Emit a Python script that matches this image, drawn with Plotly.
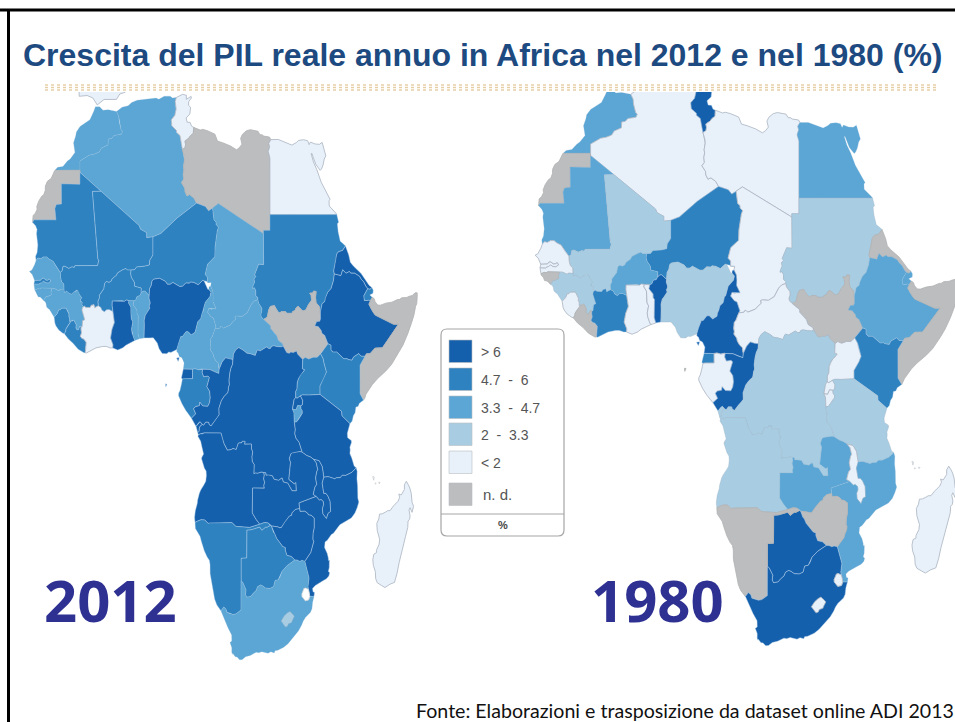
import plotly.graph_objects as go

W, H = 955, 722
TITLE = "Crescita del PIL reale annuo in Africa nel 2012 e nel 1980 (%)"
SOURCE = "Fonte: Elaborazioni e trasposizione da dataset online ADI 2013"
YEARS = ["2012", "1980"]
LEGEND_LABELS = ["> 6", "4.7  -  6", "3.3  -  4.7", "2  -  3.3", "< 2", "n. d."]
LEGEND_UNIT = "%"
COLORS = ["#1560ac", "#2f82c0", "#5ba6d4", "#a8cde2", "#e8f0fa", "#bcbdbf", "#ffffff"]
EDGES = ["rgba(190,215,240,0.55)", "rgba(190,215,240,0.45)", "rgba(150,190,220,0.3)",
         "rgba(150,175,195,0.45)", "#a9b4c0", "#b0b1b3", "#c9ced4"]

# growth class per country: 0 >6, 1 4.7-6, 2 3.3-4.7, 3 2-3.3, 4 <2, 5 n.d., 6 blank
CLASS_2012 = dict(Morocco=2, Algeria=2, Tunisia=4, Libya=5, Egypt=4, WSahara=5, Mauritania=1, Mali=1, Niger=1,
                  Chad=2, Sudan=1, SouthSudan=5, Eritrea=0, Ethiopia=0, Djibouti=1, Somalia=5, Senegal=2, Gambia=1,
                  GuineaBissau=2, Guinea=2, SierraLeone=1, Liberia=1, CoteIvoire=4, BurkinaFaso=1, Ghana=0, Togo=2,
                  Benin=2, Nigeria=0, Cameroon=2, CAR=2, EqGuinea=0, Gabon=1, Congo=0, DRC=0, Uganda=1, Kenya=1,
                  Rwanda=0, Burundi=2, Tanzania=0, Angola=0, Zambia=0, Malawi=0, Mozambique=0, Zimbabwe=0,
                  Botswana=1, Namibia=1, SouthAfrica=2, Swaziland=6, Lesotho=3, Madagascar=4, Iberia=4,
                  Bioko=0, SaoTome=0, Comoros=6)
CLASS_1980 = dict(Morocco=2, Algeria=4, Tunisia=0, Libya=4, Egypt=2, WSahara=5, Mauritania=2, Mali=3, Niger=1,
                  Chad=4, Sudan=3, SouthSudan=5, Eritrea=5, Ethiopia=2, Djibouti=2, Somalia=5, Senegal=4, Gambia=4,
                  GuineaBissau=5, Guinea=3, SierraLeone=4, Liberia=5, CoteIvoire=1, BurkinaFaso=2, Ghana=4, Togo=4,
                  Benin=0, Nigeria=3, Cameroon=0, CAR=4, EqGuinea=1, Gabon=4, Congo=0, DRC=3, Uganda=4, Kenya=1,
                  Rwanda=4, Burundi=4, Tanzania=3, Angola=3, Zambia=2, Malawi=4, Mozambique=2, Zimbabwe=5,
                  Botswana=0, Namibia=5, SouthAfrica=0, Swaziland=4, Lesotho=4, Madagascar=4, Iberia=6,
                  Bioko=0, SaoTome=5, Comoros=6)

# country outlines in longitude / latitude
Morocco = [[-5.19,35.76],[-4.59,35.33],[-3.64,35.4],[-2.6,35.18],[-2.17,35.17],[-1.79,34.53],[-1.73,33.92],[-1.39,32.86],[-1.12,32.65],[-1.31,32.26],[-2.62,32.09],[-3.07,31.72],[-3.65,31.64],[-3.69,30.9],[-4.86,30.5],[-5.24,30.0],[-6.06,29.73],[-7.06,29.58],[-8.67,28.84],[-8.67,27.66],[-13.12,27.65],[-12.62,28.04],[-11.69,28.15],[-10.9,28.83],[-10.4,29.1],[-9.56,29.93],[-9.81,31.18],[-9.43,32.04],[-9.3,32.56],[-8.66,33.24],[-7.65,33.7],[-6.91,34.11],[-6.24,35.15],[-5.93,35.76],[-5.19,35.76]]
Algeria = [[12.0,23.47],[8.57,21.57],[5.68,19.6],[4.27,19.16],[3.16,19.06],[3.15,19.69],[2.68,19.86],[2.06,20.14],[1.82,20.61],[-1.55,22.79],[-4.92,24.97],[-8.68,27.4],[-8.67,27.66],[-8.67,28.84],[-7.06,29.58],[-6.06,29.73],[-5.24,30.0],[-4.86,30.5],[-3.69,30.9],[-3.65,31.64],[-3.07,31.72],[-2.62,32.09],[-1.31,32.26],[-1.12,32.65],[-1.39,32.86],[-1.73,33.92],[-1.79,34.53],[-2.17,35.17],[-1.21,35.71],[-0.13,35.89],[0.5,36.3],[1.47,36.61],[3.16,36.78],[4.82,36.87],[5.32,36.72],[6.26,37.11],[7.33,37.12],[7.74,36.89],[8.42,36.95],[8.22,36.43],[8.38,35.48],[8.14,34.66],[7.52,34.1],[7.61,33.34],[8.43,32.75],[8.44,32.51],[9.06,32.1],[9.48,30.31],[9.81,29.42],[9.86,28.96],[9.68,28.14],[9.76,27.69],[9.63,27.14],[9.72,26.51],[9.32,26.09],[9.91,25.37],[9.95,24.94],[10.3,24.38],[10.77,24.56],[11.56,24.1],[12.0,23.47]]
Tunisia = [[9.48,30.31],[9.06,32.1],[8.44,32.51],[8.43,32.75],[7.61,33.34],[7.52,34.1],[8.14,34.66],[8.38,35.48],[8.22,36.43],[8.42,36.95],[9.51,37.35],[10.21,37.23],[10.18,36.72],[11.03,37.09],[11.1,36.9],[10.6,36.41],[10.59,35.95],[10.94,35.7],[10.81,34.83],[10.15,34.33],[10.34,33.79],[10.86,33.77],[11.11,33.29],[11.49,33.14],[11.43,32.37],[10.94,32.08],[10.64,31.76],[9.95,31.38],[10.06,30.96],[9.97,30.54],[9.48,30.31]]
Libya = [[14.85,22.86],[14.14,22.49],[13.58,23.04],[12.0,23.47],[11.56,24.1],[10.77,24.56],[10.3,24.38],[9.95,24.94],[9.91,25.37],[9.32,26.09],[9.72,26.51],[9.63,27.14],[9.76,27.69],[9.68,28.14],[9.86,28.96],[9.81,29.42],[9.48,30.31],[9.97,30.54],[10.06,30.96],[9.95,31.38],[10.64,31.76],[10.94,32.08],[11.43,32.37],[11.49,33.14],[12.66,32.79],[13.08,32.88],[13.92,32.71],[15.25,32.27],[15.71,31.38],[16.61,31.18],[18.02,30.76],[19.09,30.27],[19.57,30.53],[20.05,30.99],[19.82,31.75],[20.13,32.24],[20.85,32.71],[21.54,32.84],[22.9,32.64],[23.24,32.19],[23.61,32.19],[23.93,32.02],[24.92,31.9],[25.16,31.57],[24.8,31.09],[24.96,30.66],[24.7,30.04],[25.0,29.24],[25.0,25.68],[25.0,22.0],[25.0,20.0],[23.85,20.0],[23.84,19.58],[19.85,21.5],[15.86,23.41],[14.85,22.86]]
Egypt = [[25.0,22.0],[25.0,29.24],[24.7,30.04],[24.96,30.66],[24.8,31.09],[25.16,31.57],[26.5,31.59],[27.46,31.32],[28.45,31.03],[28.91,30.87],[29.68,31.19],[30.1,31.47],[30.98,31.56],[31.69,31.43],[31.96,30.93],[32.19,31.26],[32.99,31.02],[33.77,30.97],[34.27,31.22],[34.92,29.5],[34.64,29.1],[34.43,28.34],[34.15,27.82],[33.92,27.65],[33.59,27.97],[33.14,28.42],[32.42,29.85],[32.32,29.76],[32.73,28.71],[33.35,27.7],[34.1,26.14],[34.47,25.6],[34.8,25.03],[35.69,23.93],[35.49,23.81],[35.53,23.1],[36.69,22.2],[36.87,22.0],[32.9,22.0],[29.02,22.0],[25.0,22.0]]
WSahara = [[-8.67,27.66],[-8.68,27.4],[-8.69,25.88],[-11.97,25.93],[-11.94,23.37],[-12.87,23.28],[-13.12,22.77],[-12.93,21.33],[-16.85,21.33],[-17.06,21.0],[-17.0,21.42],[-16.97,21.89],[-16.59,22.16],[-16.26,22.68],[-16.33,23.02],[-15.98,23.72],[-15.43,24.36],[-15.09,24.52],[-14.82,25.1],[-14.8,25.64],[-14.44,26.25],[-13.77,26.62],[-13.14,27.64],[-13.12,27.65],[-8.67,27.66]]
Mauritania = [[-12.17,14.62],[-12.83,15.3],[-13.44,16.04],[-14.1,16.3],[-14.58,16.6],[-15.14,16.59],[-15.62,16.37],[-16.12,16.46],[-16.46,16.14],[-16.55,16.67],[-16.27,17.17],[-16.15,18.11],[-16.26,19.1],[-16.38,19.59],[-16.28,20.09],[-16.54,20.57],[-17.06,21.0],[-16.85,21.33],[-12.93,21.33],[-13.12,22.77],[-12.87,23.28],[-11.94,23.37],[-11.97,25.93],[-8.69,25.88],[-8.68,27.4],[-4.92,24.97],[-6.45,24.96],[-5.97,20.64],[-5.49,16.33],[-5.32,16.2],[-5.54,15.5],[-9.55,15.49],[-9.7,15.26],[-10.09,15.33],[-10.65,15.13],[-11.35,15.41],[-11.67,15.39],[-11.83,14.8],[-12.17,14.62]]
Mali = [[-12.17,14.62],[-11.83,14.8],[-11.67,15.39],[-11.35,15.41],[-10.65,15.13],[-10.09,15.33],[-9.7,15.26],[-9.55,15.49],[-5.54,15.5],[-5.32,16.2],[-5.49,16.33],[-5.97,20.64],[-6.45,24.96],[-4.92,24.97],[-1.55,22.79],[1.82,20.61],[2.06,20.14],[2.68,19.86],[3.15,19.69],[3.16,19.06],[4.27,19.16],[4.27,16.85],[3.72,16.18],[3.64,15.57],[2.75,15.41],[1.39,15.32],[1.02,14.97],[0.37,14.93],[-0.27,14.92],[-0.52,15.12],[-1.07,14.97],[-2.0,14.56],[-2.19,14.25],[-2.97,13.8],[-3.1,13.54],[-3.52,13.34],[-4.01,13.47],[-4.28,13.23],[-4.43,12.54],[-5.22,11.71],[-5.2,11.38],[-5.47,10.95],[-5.4,10.37],[-5.82,10.22],[-6.05,10.1],[-6.21,10.52],[-6.49,10.41],[-6.67,10.43],[-6.85,10.14],[-7.62,10.15],[-7.9,10.3],[-8.03,10.21],[-8.34,10.49],[-8.28,10.79],[-8.41,10.91],[-8.62,10.81],[-8.58,11.14],[-8.38,11.39],[-8.79,11.81],[-8.91,12.09],[-9.13,12.31],[-9.33,12.33],[-9.57,12.19],[-9.89,12.06],[-10.17,11.84],[-10.59,11.92],[-10.87,12.18],[-11.04,12.21],[-11.3,12.08],[-11.46,12.08],[-11.51,12.44],[-11.47,12.75],[-11.55,13.14],[-11.93,13.42],[-12.12,13.99],[-12.17,14.62]]
Niger = [[2.15,11.94],[2.18,12.63],[1.02,12.85],[0.99,13.34],[0.43,13.99],[0.3,14.44],[0.37,14.93],[1.02,14.97],[1.39,15.32],[2.75,15.41],[3.64,15.57],[3.72,16.18],[4.27,16.85],[4.27,19.16],[5.68,19.6],[8.57,21.57],[12.0,23.47],[13.58,23.04],[14.14,22.49],[14.85,22.86],[15.1,21.31],[15.47,21.05],[15.49,20.73],[15.9,20.39],[15.69,19.96],[15.3,17.93],[15.25,16.63],[13.97,15.68],[13.54,14.37],[13.96,14.0],[13.95,13.35],[14.6,13.33],[13.08,13.6],[12.3,13.04],[11.53,13.33],[10.99,13.39],[10.7,13.25],[10.11,13.28],[9.52,12.85],[9.01,12.83],[7.8,13.34],[7.33,13.1],[6.82,13.12],[6.45,13.49],[5.44,13.87],[4.37,13.75],[4.11,13.53],[3.97,12.96],[3.68,12.55],[3.61,11.66],[2.85,12.24],[2.49,12.23],[2.15,11.94]]
Chad = [[23.84,19.58],[23.89,15.61],[23.02,15.68],[22.57,14.94],[22.3,14.33],[22.51,14.09],[22.18,13.79],[22.3,13.37],[22.04,12.96],[21.94,12.59],[22.29,12.65],[22.5,12.26],[22.51,11.68],[22.88,11.38],[22.86,11.14],[22.23,10.97],[21.72,10.57],[21.0,9.48],[20.06,9.01],[19.09,9.07],[18.81,8.98],[18.91,8.63],[18.39,8.28],[17.96,7.89],[16.71,7.51],[16.46,7.73],[16.29,7.75],[16.11,7.5],[15.28,7.42],[15.44,7.69],[15.12,8.38],[14.98,8.8],[14.54,8.97],[13.95,9.55],[14.17,10.02],[14.63,9.92],[14.91,9.99],[15.47,9.98],[14.92,10.89],[14.96,11.56],[14.89,12.22],[14.5,12.86],[14.6,13.33],[13.95,13.35],[13.96,14.0],[13.54,14.37],[13.97,15.68],[15.25,16.63],[15.3,17.93],[15.69,19.96],[15.9,20.39],[15.49,20.73],[15.47,21.05],[15.1,21.31],[14.85,22.86],[15.86,23.41],[19.85,21.5],[23.84,19.58]]
Sudan = [[33.96,9.46],[33.82,9.48],[33.84,9.98],[33.72,10.33],[33.21,10.72],[33.09,11.44],[33.21,12.18],[32.74,12.25],[32.67,12.02],[32.07,11.97],[32.31,11.68],[32.4,11.08],[31.85,10.53],[31.35,9.81],[30.84,9.71],[30.0,10.29],[29.62,10.08],[29.52,9.79],[29.0,9.6],[28.97,9.4],[27.97,9.4],[27.83,9.6],[27.11,9.64],[26.75,9.47],[26.48,9.55],[25.96,10.14],[25.79,10.41],[25.07,10.27],[24.79,9.81],[24.54,8.92],[24.19,8.73],[23.89,8.62],[23.81,8.67],[23.46,8.95],[23.39,9.27],[23.56,9.68],[23.55,10.09],[22.98,10.71],[22.86,11.14],[22.88,11.38],[22.51,11.68],[22.5,12.26],[22.29,12.65],[21.94,12.59],[22.04,12.96],[22.3,13.37],[22.18,13.79],[22.51,14.09],[22.3,14.33],[22.57,14.94],[23.02,15.68],[23.89,15.61],[23.84,19.58],[23.85,20.0],[25.0,20.0],[25.0,22.0],[29.02,22.0],[32.9,22.0],[36.87,22.0],[37.19,21.02],[36.97,20.84],[37.11,19.81],[37.48,18.61],[37.86,18.37],[38.41,18.0],[37.9,17.43],[37.17,17.26],[36.85,16.96],[36.75,16.29],[36.32,14.82],[36.43,14.42],[36.27,13.56],[35.86,12.58],[35.26,12.08],[34.83,11.32],[34.73,10.91],[34.26,10.63],[33.96,9.58],[33.96,9.46]]
SouthSudan = [[33.96,9.46],[33.97,8.68],[33.83,8.38],[33.29,8.35],[32.95,7.78],[33.57,7.71],[34.08,7.23],[34.25,6.83],[34.71,6.59],[35.3,5.51],[34.62,4.85],[34.01,4.25],[33.39,3.79],[32.69,3.79],[31.88,3.56],[31.25,3.78],[30.83,3.51],[29.95,4.17],[29.72,4.6],[29.16,4.39],[28.7,4.46],[28.43,4.29],[27.98,4.41],[27.37,5.23],[27.21,5.55],[26.47,5.95],[26.21,6.55],[25.8,6.98],[25.12,7.5],[25.11,7.83],[24.57,8.23],[23.89,8.62],[24.19,8.73],[24.54,8.92],[24.79,9.81],[25.07,10.27],[25.79,10.41],[25.96,10.14],[26.48,9.55],[26.75,9.47],[27.11,9.64],[27.83,9.6],[27.97,9.4],[28.97,9.4],[29.0,9.6],[29.52,9.79],[29.62,10.08],[30.0,10.29],[30.84,9.71],[31.35,9.81],[31.85,10.53],[32.4,11.08],[32.31,11.68],[32.07,11.97],[32.67,12.02],[32.74,12.25],[33.21,12.18],[33.09,11.44],[33.21,10.72],[33.72,10.33],[33.84,9.98],[33.82,9.48],[33.96,9.46]]
Eritrea = [[42.35,12.54],[42.01,12.87],[41.6,13.45],[41.16,13.77],[40.9,14.12],[40.03,14.52],[39.34,14.53],[39.1,14.74],[38.51,14.51],[37.91,14.96],[37.59,14.21],[36.43,14.42],[36.32,14.82],[36.75,16.29],[36.85,16.96],[37.17,17.26],[37.9,17.43],[38.41,18.0],[38.99,16.84],[39.27,15.92],[39.81,15.44],[41.18,14.49],[41.73,13.92],[42.28,13.34],[42.59,13.0],[43.08,12.7],[42.78,12.46],[42.35,12.54]]
Ethiopia = [[47.79,8.0],[44.96,5.0],[43.66,4.96],[42.77,4.25],[42.13,4.23],[41.86,3.92],[41.17,3.92],[40.77,4.26],[39.85,3.84],[39.56,3.42],[38.89,3.5],[38.67,3.62],[38.44,3.59],[38.12,3.6],[36.86,4.45],[36.16,4.45],[35.82,4.78],[35.82,5.34],[35.3,5.51],[34.71,6.59],[34.25,6.83],[34.08,7.23],[33.57,7.71],[32.95,7.78],[33.29,8.35],[33.83,8.38],[33.97,8.68],[33.96,9.58],[34.26,10.63],[34.73,10.91],[34.83,11.32],[35.26,12.08],[35.86,12.58],[36.27,13.56],[36.43,14.42],[37.59,14.21],[37.91,14.96],[38.51,14.51],[39.1,14.74],[39.34,14.53],[40.03,14.52],[40.9,14.12],[41.16,13.77],[41.6,13.45],[42.01,12.87],[42.35,12.54],[42.0,12.1],[41.66,11.63],[41.74,11.36],[41.76,11.05],[42.31,11.03],[42.55,11.11],[42.78,10.93],[42.56,10.57],[42.93,10.02],[43.3,9.54],[43.68,9.18],[46.95,8.0],[47.79,8.0]]
Djibouti = [[43.08,12.7],[43.32,12.39],[43.29,11.97],[42.72,11.74],[43.15,11.46],[42.78,10.93],[42.55,11.11],[42.31,11.03],[41.76,11.05],[41.74,11.36],[41.66,11.63],[42.0,12.1],[42.35,12.54],[42.78,12.46],[43.08,12.7]]
Somalia = [[41.59,-1.68],[40.99,-0.86],[40.98,2.78],[41.86,3.92],[42.13,4.23],[42.77,4.25],[43.66,4.96],[44.96,5.0],[47.79,8.0],[46.95,8.0],[43.68,9.18],[43.3,9.54],[42.93,10.02],[42.56,10.57],[42.78,10.93],[43.15,11.46],[43.47,11.28],[43.67,10.86],[44.12,10.45],[44.61,10.44],[45.56,10.7],[46.65,10.82],[47.53,11.13],[48.02,11.19],[48.38,11.38],[48.95,11.41],[49.27,11.43],[49.73,11.58],[50.26,11.68],[50.73,12.02],[51.11,12.02],[51.13,11.75],[51.04,11.17],[51.05,10.64],[50.83,10.28],[50.55,9.2],[50.07,8.08],[49.45,6.8],[48.59,5.34],[47.74,4.22],[46.56,2.86],[45.56,2.05],[44.07,1.05],[43.14,0.29],[42.04,-0.92],[41.81,-1.45],[41.59,-1.68]]
Senegal = [[-16.71,13.59],[-17.13,14.37],[-17.63,14.73],[-17.19,14.92],[-16.7,15.62],[-16.46,16.14],[-16.12,16.46],[-15.62,16.37],[-15.14,16.59],[-14.58,16.6],[-14.1,16.3],[-13.44,16.04],[-12.83,15.3],[-12.17,14.62],[-12.12,13.99],[-11.93,13.42],[-11.55,13.14],[-11.47,12.75],[-11.51,12.44],[-11.66,12.39],[-12.2,12.47],[-12.28,12.35],[-12.5,12.33],[-13.22,12.58],[-13.7,12.59],[-15.55,12.63],[-15.82,12.52],[-16.15,12.55],[-16.68,12.38],[-16.84,13.15],[-15.93,13.13],[-15.69,13.27],[-15.51,13.28],[-15.14,13.51],[-14.71,13.3],[-14.28,13.28],[-13.84,13.51],[-14.05,13.79],[-14.38,13.63],[-14.69,13.63],[-15.08,13.88],[-15.4,13.86],[-15.62,13.62],[-16.71,13.59]]
Gambia = [[-16.84,13.15],[-16.71,13.59],[-15.62,13.62],[-15.4,13.86],[-15.08,13.88],[-14.69,13.63],[-14.38,13.63],[-14.05,13.79],[-13.84,13.51],[-14.28,13.28],[-14.71,13.3],[-15.14,13.51],[-15.51,13.28],[-15.69,13.27],[-15.93,13.13],[-16.84,13.15]]
GuineaBissau = [[-15.13,11.04],[-15.66,11.46],[-16.09,11.52],[-16.31,11.81],[-16.31,11.96],[-16.61,12.17],[-16.68,12.38],[-16.15,12.55],[-15.82,12.52],[-15.55,12.63],[-13.7,12.59],[-13.72,12.25],[-13.83,12.14],[-13.74,11.81],[-13.9,11.68],[-14.12,11.68],[-14.38,11.51],[-14.69,11.53],[-15.13,11.04]]
Guinea = [[-8.44,7.69],[-8.72,7.71],[-8.93,7.31],[-9.21,7.31],[-9.4,7.53],[-9.34,7.93],[-9.76,8.54],[-10.02,8.43],[-10.23,8.41],[-10.51,8.35],[-10.49,8.72],[-10.65,8.98],[-10.62,9.27],[-10.84,9.69],[-11.12,10.05],[-11.92,10.05],[-12.15,9.86],[-12.43,9.84],[-12.6,9.62],[-12.71,9.34],[-13.25,8.9],[-13.69,9.49],[-14.07,9.89],[-14.33,10.02],[-14.58,10.21],[-14.69,10.66],[-14.84,10.88],[-15.13,11.04],[-14.69,11.53],[-14.38,11.51],[-14.12,11.68],[-13.9,11.68],[-13.74,11.81],[-13.83,12.14],[-13.72,12.25],[-13.7,12.59],[-13.22,12.58],[-12.5,12.33],[-12.28,12.35],[-12.2,12.47],[-11.66,12.39],[-11.51,12.44],[-11.46,12.08],[-11.3,12.08],[-11.04,12.21],[-10.87,12.18],[-10.59,11.92],[-10.17,11.84],[-9.89,12.06],[-9.57,12.19],[-9.33,12.33],[-9.13,12.31],[-8.91,12.09],[-8.79,11.81],[-8.38,11.39],[-8.58,11.14],[-8.62,10.81],[-8.41,10.91],[-8.28,10.79],[-8.34,10.49],[-8.03,10.21],[-8.23,10.13],[-8.31,9.79],[-8.08,9.38],[-7.83,8.58],[-8.2,8.46],[-8.3,8.32],[-8.22,8.12],[-8.28,7.69],[-8.44,7.69]]
SierraLeone = [[-11.44,6.79],[-11.71,6.86],[-12.43,7.26],[-12.95,7.8],[-13.12,8.16],[-13.25,8.9],[-12.71,9.34],[-12.6,9.62],[-12.43,9.84],[-12.15,9.86],[-11.92,10.05],[-11.12,10.05],[-10.84,9.69],[-10.62,9.27],[-10.65,8.98],[-10.49,8.72],[-10.51,8.35],[-10.23,8.41],[-10.7,7.94],[-11.15,7.4],[-11.2,7.11],[-11.44,6.79]]
Liberia = [[-11.44,6.79],[-11.2,7.11],[-11.15,7.4],[-10.7,7.94],[-10.23,8.41],[-10.02,8.43],[-9.76,8.54],[-9.34,7.93],[-9.4,7.53],[-9.21,7.31],[-8.93,7.31],[-8.72,7.71],[-8.44,7.69],[-8.49,7.4],[-8.39,6.91],[-8.6,6.47],[-8.31,6.19],[-7.99,6.13],[-7.57,5.71],[-7.54,5.31],[-7.64,5.19],[-7.71,4.36],[-7.97,4.36],[-9.0,4.83],[-9.91,5.59],[-10.77,6.14],[-11.44,6.79]]
CoteIvoire = [[-2.86,4.99],[-3.31,4.98],[-4.01,5.18],[-4.65,5.17],[-5.83,4.99],[-6.53,4.71],[-7.52,4.34],[-7.71,4.36],[-7.64,5.19],[-7.54,5.31],[-7.57,5.71],[-7.99,6.13],[-8.31,6.19],[-8.6,6.47],[-8.39,6.91],[-8.49,7.4],[-8.44,7.69],[-8.28,7.69],[-8.22,8.12],[-8.3,8.32],[-8.2,8.46],[-7.83,8.58],[-8.08,9.38],[-8.31,9.79],[-8.23,10.13],[-8.03,10.21],[-7.9,10.3],[-7.62,10.15],[-6.85,10.14],[-6.67,10.43],[-6.49,10.41],[-6.21,10.52],[-6.05,10.1],[-5.82,10.22],[-5.4,10.37],[-4.95,10.15],[-4.78,9.82],[-4.33,9.61],[-3.98,9.86],[-3.51,9.9],[-2.83,9.64],[-2.56,8.22],[-2.98,7.38],[-3.24,6.25],[-2.81,5.39],[-2.86,4.99]]
BurkinaFaso = [[-2.83,9.64],[-3.51,9.9],[-3.98,9.86],[-4.33,9.61],[-4.78,9.82],[-4.95,10.15],[-5.4,10.37],[-5.47,10.95],[-5.2,11.38],[-5.22,11.71],[-4.43,12.54],[-4.28,13.23],[-4.01,13.47],[-3.52,13.34],[-3.1,13.54],[-2.97,13.8],[-2.19,14.25],[-2.0,14.56],[-1.07,14.97],[-0.52,15.12],[-0.27,14.92],[0.37,14.93],[0.3,14.44],[0.43,13.99],[0.99,13.34],[1.02,12.85],[2.18,12.63],[2.15,11.94],[1.94,11.64],[1.45,11.55],[1.24,11.11],[0.9,11.0],[0.02,11.02],[-0.44,11.1],[-0.76,10.94],[-1.2,11.01],[-2.94,10.96],[-2.96,10.4],[-2.83,9.64]]
Ghana = [[1.06,5.93],[-0.51,5.34],[-1.06,5.0],[-1.96,4.71],[-2.86,4.99],[-2.81,5.39],[-3.24,6.25],[-2.98,7.38],[-2.56,8.22],[-2.83,9.64],[-2.96,10.4],[-2.94,10.96],[-1.2,11.01],[-0.76,10.94],[-0.44,11.1],[0.02,11.02],[-0.05,10.71],[0.37,10.19],[0.37,9.47],[0.46,8.68],[0.71,8.31],[0.49,7.41],[0.57,6.91],[0.84,6.28],[1.06,5.93]]
Togo = [[1.87,6.14],[1.06,5.93],[0.84,6.28],[0.57,6.91],[0.49,7.41],[0.71,8.31],[0.46,8.68],[0.37,9.47],[0.37,10.19],[-0.05,10.71],[0.02,11.02],[0.9,11.0],[0.77,10.47],[1.08,10.18],[1.43,9.83],[1.46,9.33],[1.66,9.13],[1.62,6.83],[1.87,6.14]]
Benin = [[2.69,6.26],[1.87,6.14],[1.62,6.83],[1.66,9.13],[1.46,9.33],[1.43,9.83],[1.08,10.18],[0.77,10.47],[0.9,11.0],[1.24,11.11],[1.45,11.55],[1.94,11.64],[2.15,11.94],[2.49,12.23],[2.85,12.24],[3.61,11.66],[3.57,11.33],[3.8,10.73],[3.6,10.33],[3.71,10.06],[3.22,9.44],[2.91,9.14],[2.72,8.51],[2.75,7.87],[2.69,6.26]]
Nigeria = [[8.5,4.77],[7.46,4.41],[7.08,4.46],[6.7,4.24],[5.9,4.26],[5.36,4.89],[5.03,5.61],[4.33,6.27],[3.57,6.26],[2.69,6.26],[2.75,7.87],[2.72,8.51],[2.91,9.14],[3.22,9.44],[3.71,10.06],[3.6,10.33],[3.8,10.73],[3.57,11.33],[3.61,11.66],[3.68,12.55],[3.97,12.96],[4.11,13.53],[4.37,13.75],[5.44,13.87],[6.45,13.49],[6.82,13.12],[7.33,13.1],[7.8,13.34],[9.01,12.83],[9.52,12.85],[10.11,13.28],[10.7,13.25],[10.99,13.39],[11.53,13.33],[12.3,13.04],[13.08,13.6],[13.32,13.56],[14.0,12.46],[14.18,12.48],[14.58,12.09],[14.47,11.9],[14.42,11.57],[13.57,10.8],[13.31,10.16],[13.17,9.64],[12.96,9.42],[12.75,8.72],[12.22,8.31],[12.06,7.8],[11.84,7.4],[11.75,6.98],[11.06,6.64],[10.5,7.06],[10.12,7.04],[9.52,6.45],[9.23,6.44],[8.76,5.48],[8.5,4.77]]
Cameroon = [[14.5,12.86],[14.89,12.22],[14.96,11.56],[14.92,10.89],[15.47,9.98],[14.91,9.99],[14.63,9.92],[14.17,10.02],[13.95,9.55],[14.54,8.97],[14.98,8.8],[15.12,8.38],[15.44,7.69],[15.28,7.42],[14.78,6.41],[14.54,6.23],[14.46,5.45],[14.56,5.03],[14.48,4.73],[14.95,4.21],[15.04,3.85],[15.41,3.34],[15.86,3.01],[15.91,2.56],[16.01,2.27],[15.94,1.73],[15.15,1.96],[14.34,2.23],[13.08,2.27],[12.95,2.32],[12.36,2.19],[11.75,2.33],[11.28,2.26],[9.65,2.28],[9.8,3.07],[9.4,3.73],[8.95,3.9],[8.74,4.35],[8.49,4.5],[8.5,4.77],[8.76,5.48],[9.23,6.44],[9.52,6.45],[10.12,7.04],[10.5,7.06],[11.06,6.64],[11.75,6.98],[11.84,7.4],[12.06,7.8],[12.22,8.31],[12.75,8.72],[12.96,9.42],[13.17,9.64],[13.31,10.16],[13.57,10.8],[14.42,11.57],[14.47,11.9],[14.58,12.09],[14.18,12.48],[14.21,12.8],[14.5,12.86]]
CAR = [[27.37,5.23],[27.04,5.13],[26.4,5.15],[25.65,5.26],[25.28,5.17],[25.13,4.93],[24.81,4.9],[24.41,5.11],[23.3,4.61],[22.84,4.71],[22.7,4.63],[22.41,4.03],[21.66,4.22],[20.93,4.32],[20.29,4.69],[19.47,5.03],[18.93,4.71],[18.54,4.2],[18.45,3.5],[17.81,3.56],[17.13,3.73],[16.54,3.2],[16.01,2.27],[15.91,2.56],[15.86,3.01],[15.41,3.34],[15.04,3.85],[14.95,4.21],[14.48,4.73],[14.56,5.03],[14.46,5.45],[14.54,6.23],[14.78,6.41],[15.28,7.42],[16.11,7.5],[16.29,7.75],[16.46,7.73],[16.71,7.51],[17.96,7.89],[18.39,8.28],[18.91,8.63],[18.81,8.98],[19.09,9.07],[20.06,9.01],[21.0,9.48],[21.72,10.57],[22.23,10.97],[22.86,11.14],[22.98,10.71],[23.55,10.09],[23.56,9.68],[23.39,9.27],[23.46,8.95],[23.81,8.67],[24.57,8.23],[25.11,7.83],[25.12,7.5],[25.8,6.98],[26.21,6.55],[26.47,5.95],[27.21,5.55],[27.37,5.23]]
EqGuinea = [[9.65,2.28],[11.28,2.26],[11.29,1.06],[9.83,1.07],[9.49,1.01],[9.31,1.16],[9.65,2.28]]
Gabon = [[11.09,-3.98],[10.07,-2.97],[9.41,-2.14],[8.8,-1.11],[8.83,-0.78],[9.05,-0.46],[9.29,0.27],[9.49,1.01],[9.83,1.07],[11.29,1.06],[11.28,2.26],[11.75,2.33],[12.36,2.19],[12.95,2.32],[13.08,2.27],[13.0,1.83],[13.28,1.31],[14.03,1.4],[14.28,1.2],[13.84,0.04],[14.32,-0.55],[14.43,-1.33],[14.3,-2.0],[13.99,-2.47],[13.11,-2.43],[12.58,-1.95],[12.5,-2.39],[11.82,-2.51],[11.48,-2.77],[11.86,-3.43],[11.09,-3.98]]
Congo = [[13.0,-4.78],[12.62,-4.44],[12.32,-4.61],[11.91,-5.04],[11.09,-3.98],[11.86,-3.43],[11.48,-2.77],[11.82,-2.51],[12.5,-2.39],[12.58,-1.95],[13.11,-2.43],[13.99,-2.47],[14.3,-2.0],[14.43,-1.33],[14.32,-0.55],[13.84,0.04],[14.28,1.2],[14.03,1.4],[13.28,1.31],[13.0,1.83],[13.08,2.27],[14.34,2.23],[15.15,1.96],[15.94,1.73],[16.01,2.27],[16.54,3.2],[17.13,3.73],[17.81,3.56],[18.45,3.5],[18.39,2.9],[18.09,2.37],[17.9,1.74],[17.77,0.86],[17.83,0.29],[17.66,-0.06],[17.64,-0.42],[17.52,-0.74],[16.87,-1.23],[16.41,-1.74],[15.97,-2.71],[16.01,-3.54],[15.75,-3.86],[15.17,-4.34],[14.58,-4.97],[14.21,-4.79],[14.14,-4.51],[13.6,-4.5],[13.26,-4.88],[13.0,-4.78]]
DRC = [[30.83,3.51],[30.77,2.34],[31.17,2.2],[30.85,1.85],[30.47,1.58],[30.09,1.06],[29.88,0.6],[29.82,-0.21],[29.59,-0.59],[29.58,-1.34],[29.29,-1.62],[29.25,-2.22],[29.12,-2.29],[29.02,-2.84],[29.28,-3.29],[29.34,-4.5],[29.52,-5.42],[29.42,-5.94],[29.62,-6.52],[30.2,-7.08],[30.74,-8.34],[30.35,-8.24],[29.0,-8.41],[28.73,-8.53],[28.45,-9.16],[28.67,-9.61],[28.5,-10.79],[28.37,-11.79],[28.64,-11.97],[29.34,-12.36],[29.62,-12.18],[29.7,-13.26],[28.93,-13.25],[28.52,-12.7],[28.16,-12.27],[27.39,-12.13],[27.16,-11.61],[26.55,-11.92],[25.75,-11.78],[25.42,-11.33],[24.78,-11.24],[24.31,-11.26],[24.26,-10.95],[23.91,-10.93],[23.46,-10.87],[22.84,-11.02],[22.4,-10.99],[22.16,-11.08],[22.21,-9.89],[21.88,-9.52],[21.8,-8.91],[21.95,-8.31],[21.75,-7.92],[21.73,-7.29],[20.51,-7.3],[20.6,-6.94],[20.09,-6.94],[20.04,-7.12],[19.42,-7.16],[19.17,-7.74],[19.02,-7.99],[18.46,-7.85],[18.13,-7.99],[17.47,-8.07],[17.09,-7.55],[16.86,-7.22],[16.57,-6.62],[16.33,-5.88],[13.38,-5.86],[13.02,-5.98],[12.74,-5.97],[12.32,-6.1],[12.18,-5.79],[12.44,-5.68],[12.47,-5.25],[12.63,-4.99],[13.0,-4.78],[13.26,-4.88],[13.6,-4.5],[14.14,-4.51],[14.21,-4.79],[14.58,-4.97],[15.17,-4.34],[15.75,-3.86],[16.01,-3.54],[15.97,-2.71],[16.41,-1.74],[16.87,-1.23],[17.52,-0.74],[17.64,-0.42],[17.66,-0.06],[17.83,0.29],[17.77,0.86],[17.9,1.74],[18.09,2.37],[18.39,2.9],[18.45,3.5],[18.54,4.2],[18.93,4.71],[19.47,5.03],[20.29,4.69],[20.93,4.32],[21.66,4.22],[22.41,4.03],[22.7,4.63],[22.84,4.71],[23.3,4.61],[24.41,5.11],[24.81,4.9],[25.13,4.93],[25.28,5.17],[25.65,5.26],[26.4,5.15],[27.04,5.13],[27.37,5.23],[27.98,4.41],[28.43,4.29],[28.7,4.46],[29.16,4.39],[29.72,4.6],[29.95,4.17],[30.83,3.51]]
Uganda = [[31.87,-1.03],[30.77,-1.01],[30.42,-1.13],[29.82,-1.44],[29.58,-1.34],[29.59,-0.59],[29.82,-0.21],[29.88,0.6],[30.09,1.06],[30.47,1.58],[30.85,1.85],[31.17,2.2],[30.77,2.34],[30.83,3.51],[31.25,3.78],[31.88,3.56],[32.69,3.79],[33.39,3.79],[34.01,4.25],[34.48,3.56],[34.6,3.05],[35.04,1.91],[34.67,1.18],[34.18,0.52],[33.89,0.11],[33.9,-0.95],[31.87,-1.03]]
Kenya = [[39.2,-4.68],[37.77,-3.68],[37.7,-3.1],[34.07,-1.06],[33.9,-0.95],[33.89,0.11],[34.18,0.52],[34.67,1.18],[35.04,1.91],[34.6,3.05],[34.48,3.56],[34.01,4.25],[34.62,4.85],[35.3,5.51],[35.82,5.34],[35.82,4.78],[36.16,4.45],[36.86,4.45],[38.12,3.6],[38.44,3.59],[38.67,3.62],[38.89,3.5],[39.56,3.42],[39.85,3.84],[40.77,4.26],[41.17,3.92],[41.86,3.92],[40.98,2.78],[40.99,-0.86],[41.59,-1.68],[40.88,-2.08],[40.64,-2.5],[40.26,-2.57],[40.12,-3.28],[39.8,-3.68],[39.6,-4.35],[39.2,-4.68]]
Rwanda = [[30.42,-1.13],[30.82,-1.7],[30.76,-2.29],[30.47,-2.41],[29.94,-2.35],[29.63,-2.92],[29.02,-2.84],[29.12,-2.29],[29.25,-2.22],[29.29,-1.62],[29.58,-1.34],[29.82,-1.44],[30.42,-1.13]]
Burundi = [[30.47,-2.41],[30.53,-2.81],[30.74,-3.03],[30.75,-3.36],[30.51,-3.57],[30.12,-4.09],[29.75,-4.45],[29.34,-4.5],[29.28,-3.29],[29.02,-2.84],[29.63,-2.92],[29.94,-2.35],[30.47,-2.41]]
Tanzania = [[33.9,-0.95],[34.07,-1.06],[37.7,-3.1],[37.77,-3.68],[39.2,-4.68],[38.74,-5.91],[38.8,-6.48],[39.44,-6.84],[39.47,-7.1],[39.19,-7.7],[39.25,-8.01],[39.19,-8.49],[39.54,-9.11],[39.95,-10.1],[40.32,-10.32],[39.52,-10.9],[38.43,-11.29],[37.83,-11.27],[37.47,-11.57],[36.78,-11.59],[36.51,-11.72],[35.31,-11.44],[34.56,-11.52],[34.28,-10.16],[33.94,-9.69],[33.74,-9.42],[32.76,-9.23],[32.19,-8.93],[31.56,-8.76],[31.16,-8.59],[30.74,-8.34],[30.2,-7.08],[29.62,-6.52],[29.42,-5.94],[29.52,-5.42],[29.34,-4.5],[29.75,-4.45],[30.12,-4.09],[30.51,-3.57],[30.75,-3.36],[30.74,-3.03],[30.53,-2.81],[30.47,-2.41],[30.76,-2.29],[30.82,-1.7],[30.42,-1.13],[30.77,-1.01],[31.87,-1.03],[33.9,-0.95]]
Angola = [[16.33,-5.88],[16.57,-6.62],[16.86,-7.22],[17.09,-7.55],[17.47,-8.07],[18.13,-7.99],[18.46,-7.85],[19.02,-7.99],[19.17,-7.74],[19.42,-7.16],[20.04,-7.12],[20.09,-6.94],[20.6,-6.94],[20.51,-7.3],[21.73,-7.29],[21.75,-7.92],[21.95,-8.31],[21.8,-8.91],[21.88,-9.52],[22.21,-9.89],[22.16,-11.08],[22.4,-10.99],[22.84,-11.02],[23.46,-10.87],[23.91,-10.93],[24.02,-11.24],[23.9,-11.72],[24.08,-12.19],[23.93,-12.57],[24.02,-12.91],[21.93,-12.9],[21.89,-16.08],[22.56,-16.9],[23.22,-17.52],[21.38,-17.93],[18.96,-17.79],[18.26,-17.31],[14.21,-17.35],[14.06,-17.42],[13.46,-16.97],[12.81,-16.94],[12.22,-17.11],[11.73,-17.3],[11.64,-16.67],[11.78,-15.79],[12.12,-14.88],[12.18,-14.45],[12.5,-13.55],[12.74,-13.14],[13.31,-12.48],[13.63,-12.04],[13.74,-11.3],[13.69,-10.73],[13.39,-10.37],[13.12,-9.77],[12.88,-9.17],[12.93,-8.96],[13.24,-8.56],[12.93,-7.6],[12.73,-6.93],[12.23,-6.29],[12.32,-6.1],[12.74,-5.97],[13.02,-5.98],[13.38,-5.86],[16.33,-5.88],None,[12.44,-5.68],[12.18,-5.79],[11.91,-5.04],[12.32,-4.61],[12.62,-4.44],[13.0,-4.78],[12.63,-4.99],[12.47,-5.25],[12.44,-5.68]]
Zambia = [[32.76,-9.23],[33.23,-9.68],[33.49,-10.53],[33.32,-10.8],[33.11,-11.61],[33.31,-12.44],[32.99,-12.78],[32.69,-13.71],[33.21,-13.97],[30.18,-14.8],[30.27,-15.51],[29.52,-15.64],[28.95,-16.04],[28.83,-16.39],[28.47,-16.47],[27.6,-17.29],[27.04,-17.94],[26.71,-17.96],[26.38,-17.85],[25.26,-17.74],[25.08,-17.66],[25.08,-17.58],[24.68,-17.35],[24.03,-17.3],[23.22,-17.52],[22.56,-16.9],[21.89,-16.08],[21.93,-12.9],[24.02,-12.91],[23.93,-12.57],[24.08,-12.19],[23.9,-11.72],[24.02,-11.24],[23.91,-10.93],[24.26,-10.95],[24.31,-11.26],[24.78,-11.24],[25.42,-11.33],[25.75,-11.78],[26.55,-11.92],[27.16,-11.61],[27.39,-12.13],[28.16,-12.27],[28.52,-12.7],[28.93,-13.25],[29.7,-13.26],[29.62,-12.18],[29.34,-12.36],[28.64,-11.97],[28.37,-11.79],[28.5,-10.79],[28.67,-9.61],[28.45,-9.16],[28.73,-8.53],[29.0,-8.41],[30.35,-8.24],[30.74,-8.34],[31.16,-8.59],[31.56,-8.76],[32.19,-8.93],[32.76,-9.23]]
Malawi = [[34.56,-11.52],[34.28,-12.28],[34.56,-13.58],[34.91,-13.57],[35.27,-13.89],[35.69,-14.61],[35.77,-15.9],[35.34,-16.11],[35.03,-16.8],[34.38,-16.18],[34.31,-15.48],[34.52,-15.01],[34.46,-14.61],[34.06,-14.36],[33.79,-14.45],[33.21,-13.97],[32.69,-13.71],[32.99,-12.78],[33.31,-12.44],[33.11,-11.61],[33.32,-10.8],[33.49,-10.53],[33.23,-9.68],[32.76,-9.23],[33.74,-9.42],[33.94,-9.69],[34.28,-10.16],[34.56,-11.52]]
Mozambique = [[34.56,-11.52],[35.31,-11.44],[36.51,-11.72],[36.78,-11.59],[37.47,-11.57],[37.83,-11.27],[38.43,-11.29],[39.52,-10.9],[40.32,-10.32],[40.48,-10.77],[40.44,-11.76],[40.56,-12.64],[40.6,-14.2],[40.78,-14.69],[40.48,-15.41],[40.09,-16.1],[39.45,-16.72],[38.54,-17.1],[37.41,-17.59],[36.28,-18.66],[35.9,-18.84],[35.2,-19.55],[34.79,-19.78],[34.7,-20.5],[35.18,-21.25],[35.37,-21.84],[35.39,-22.14],[35.56,-22.09],[35.53,-23.07],[35.37,-23.54],[35.61,-23.71],[35.46,-24.12],[35.04,-24.48],[34.22,-24.82],[33.01,-25.36],[32.57,-25.73],[32.66,-26.15],[32.92,-26.22],[32.83,-26.74],[32.07,-26.73],[31.99,-26.29],[31.84,-25.84],[31.75,-25.48],[31.93,-24.37],[31.67,-23.66],[31.19,-22.25],[32.24,-21.12],[32.51,-20.4],[32.66,-20.3],[32.77,-19.72],[32.61,-19.42],[32.65,-18.67],[32.85,-17.98],[32.85,-16.71],[32.33,-16.39],[31.85,-16.32],[31.64,-16.07],[31.17,-15.86],[30.34,-15.88],[30.27,-15.51],[30.18,-14.8],[33.21,-13.97],[33.79,-14.45],[34.06,-14.36],[34.46,-14.61],[34.52,-15.01],[34.31,-15.48],[34.38,-16.18],[35.03,-16.8],[35.34,-16.11],[35.77,-15.9],[35.69,-14.61],[35.27,-13.89],[34.91,-13.57],[34.56,-13.58],[34.28,-12.28],[34.56,-11.52]]
Zimbabwe = [[31.19,-22.25],[30.66,-22.15],[30.32,-22.27],[29.84,-22.1],[29.43,-22.09],[28.79,-21.64],[28.02,-21.49],[27.73,-20.85],[27.72,-20.5],[27.3,-20.39],[26.16,-19.29],[25.85,-18.71],[25.65,-18.54],[25.26,-17.74],[26.38,-17.85],[26.71,-17.96],[27.04,-17.94],[27.6,-17.29],[28.47,-16.47],[28.83,-16.39],[28.95,-16.04],[29.52,-15.64],[30.27,-15.51],[30.34,-15.88],[31.17,-15.86],[31.64,-16.07],[31.85,-16.32],[32.33,-16.39],[32.85,-16.71],[32.85,-17.98],[32.65,-18.67],[32.61,-19.42],[32.77,-19.72],[32.66,-20.3],[32.51,-20.4],[32.24,-21.12],[31.19,-22.25]]
Botswana = [[25.65,-18.54],[25.85,-18.71],[26.16,-19.29],[27.3,-20.39],[27.72,-20.5],[27.73,-20.85],[28.02,-21.49],[28.79,-21.64],[29.43,-22.09],[28.02,-22.83],[27.12,-23.57],[26.79,-24.24],[26.49,-24.62],[25.94,-24.7],[25.77,-25.17],[25.66,-25.49],[25.03,-25.72],[24.21,-25.67],[23.73,-25.39],[23.31,-25.27],[22.82,-25.5],[22.58,-25.98],[22.11,-26.28],[21.61,-26.73],[20.89,-26.83],[20.67,-26.48],[20.76,-25.87],[20.17,-24.92],[19.9,-24.77],[19.9,-21.85],[20.88,-21.81],[20.91,-18.25],[21.66,-18.22],[23.2,-17.87],[23.58,-18.28],[24.22,-17.89],[24.52,-17.89],[25.08,-17.66],[25.26,-17.74],[25.65,-18.54]]
Namibia = [[16.34,-28.58],[15.6,-27.82],[15.21,-27.09],[14.99,-26.12],[14.74,-25.39],[14.41,-23.85],[14.39,-22.66],[14.26,-22.11],[13.87,-21.7],[13.35,-20.87],[12.83,-19.67],[12.61,-19.05],[11.79,-18.07],[11.73,-17.3],[12.22,-17.11],[12.81,-16.94],[13.46,-16.97],[14.06,-17.42],[14.21,-17.35],[18.26,-17.31],[18.96,-17.79],[21.38,-17.93],[23.22,-17.52],[24.03,-17.3],[24.68,-17.35],[25.08,-17.58],[25.08,-17.66],[24.52,-17.89],[24.22,-17.89],[23.58,-18.28],[23.2,-17.87],[21.66,-18.22],[20.91,-18.25],[20.88,-21.81],[19.9,-21.85],[19.9,-24.77],[19.89,-28.46],[19.0,-28.97],[18.46,-29.05],[17.84,-28.86],[17.39,-28.78],[17.22,-28.36],[16.82,-28.08],[16.34,-28.58]]
SouthAfrica = [[31.52,-29.26],[31.33,-29.4],[30.9,-29.91],[30.62,-30.42],[30.06,-31.14],[28.93,-32.17],[28.22,-32.77],[27.46,-33.23],[26.42,-33.61],[25.91,-33.67],[25.78,-33.94],[25.17,-33.8],[24.68,-33.99],[23.59,-33.79],[22.99,-33.92],[22.57,-33.86],[21.54,-34.26],[20.69,-34.42],[20.07,-34.8],[19.62,-34.82],[19.19,-34.46],[18.86,-34.44],[18.42,-34.0],[18.38,-34.14],[18.24,-33.87],[18.25,-33.28],[17.93,-32.61],[18.25,-32.43],[18.22,-31.66],[17.57,-30.73],[17.06,-29.88],[16.34,-28.58],[16.82,-28.08],[17.22,-28.36],[17.39,-28.78],[17.84,-28.86],[18.46,-29.05],[19.0,-28.97],[19.89,-28.46],[19.9,-24.77],[20.17,-24.92],[20.76,-25.87],[20.67,-26.48],[20.89,-26.83],[21.61,-26.73],[22.11,-26.28],[22.58,-25.98],[22.82,-25.5],[23.31,-25.27],[23.73,-25.39],[24.21,-25.67],[25.03,-25.72],[25.66,-25.49],[25.77,-25.17],[25.94,-24.7],[26.49,-24.62],[26.79,-24.24],[27.12,-23.57],[28.02,-22.83],[29.43,-22.09],[29.84,-22.1],[30.32,-22.27],[30.66,-22.15],[31.19,-22.25],[31.67,-23.66],[31.93,-24.37],[31.75,-25.48],[31.84,-25.84],[31.33,-25.66],[31.04,-25.73],[30.95,-26.02],[30.68,-26.4],[30.69,-26.74],[31.28,-27.29],[31.87,-27.18],[32.07,-26.73],[32.83,-26.74],[32.58,-27.47],[32.46,-28.3],[32.2,-28.75],[31.52,-29.26]]
Swaziland = [[32.07,-26.73],[31.87,-27.18],[31.28,-27.29],[30.69,-26.74],[30.68,-26.4],[30.95,-26.02],[31.04,-25.73],[31.33,-25.66],[31.84,-25.84],[31.99,-26.29],[32.07,-26.73]]
Lesotho = [[28.98,-28.96],[29.33,-29.26],[29.02,-29.74],[28.85,-30.07],[28.29,-30.23],[28.11,-30.55],[27.75,-30.65],[27.0,-29.88],[27.53,-29.24],[28.07,-28.85],[28.54,-28.65],[28.98,-28.96]]
Madagascar = [[49.54,-12.47],[49.81,-12.9],[50.06,-13.56],[50.22,-14.76],[50.48,-15.23],[50.38,-15.71],[50.2,-16.0],[49.86,-15.41],[49.67,-15.71],[49.86,-16.45],[49.77,-16.88],[49.5,-17.11],[49.44,-17.95],[49.04,-19.12],[48.55,-20.5],[47.93,-22.39],[47.55,-23.78],[47.1,-24.94],[46.28,-25.18],[45.41,-25.6],[44.83,-25.35],[44.04,-24.99],[43.76,-24.46],[43.7,-23.57],[43.35,-22.78],[43.25,-22.06],[43.43,-21.34],[43.89,-21.16],[43.9,-20.83],[44.37,-20.07],[44.46,-19.44],[44.23,-18.96],[44.04,-18.33],[43.96,-17.41],[44.31,-16.85],[44.45,-16.22],[44.94,-16.18],[45.5,-15.97],[45.87,-15.79],[46.31,-15.78],[46.88,-15.21],[47.71,-14.59],[48.01,-14.09],[47.87,-13.66],[48.29,-13.78],[48.85,-13.09],[48.86,-12.49],[49.19,-12.04],[49.54,-12.47]]
Iberia = [[-8.9,39.0],[-8.8,37.1],[-7.4,37.2],[-6.4,36.9],[-5.6,36.0],[-4.4,36.7],[-2.2,36.7],[-1.6,37.4],[-0.7,37.6],[-0.3,39.0],[-8.9,39.0]]
Bioko = [[8.45,3.7],[8.95,3.75],[8.75,3.25],[8.45,3.7]]
SaoTome = [[6.5,0.4],[6.75,0.35],[6.55,0.0],[6.5,0.4]]
Comoros = [[43.25,-11.4],[43.5,-11.5],[43.4,-11.9],[43.25,-11.4],None,[43.65,-12.25],[43.85,-12.3],[43.7,-12.4],[43.65,-12.25],None,[44.3,-12.15],[44.55,-12.2],[44.4,-12.35],[44.3,-12.15]]

OUTLINES = dict(Iberia=Iberia, Morocco=Morocco, Algeria=Algeria, Tunisia=Tunisia, Libya=Libya, Egypt=Egypt, WSahara=WSahara,
                Mauritania=Mauritania, Mali=Mali, Niger=Niger, Chad=Chad, Sudan=Sudan, SouthSudan=SouthSudan, Eritrea=Eritrea,
                Ethiopia=Ethiopia, Djibouti=Djibouti, Somalia=Somalia, Senegal=Senegal, Gambia=Gambia, GuineaBissau=GuineaBissau,
                Guinea=Guinea, SierraLeone=SierraLeone, Liberia=Liberia, CoteIvoire=CoteIvoire, BurkinaFaso=BurkinaFaso, Ghana=Ghana,
                Togo=Togo, Benin=Benin, Nigeria=Nigeria, Cameroon=Cameroon, CAR=CAR, EqGuinea=EqGuinea, Gabon=Gabon, Congo=Congo,
                DRC=DRC, Uganda=Uganda, Kenya=Kenya, Rwanda=Rwanda, Burundi=Burundi, Tanzania=Tanzania, Angola=Angola, Zambia=Zambia,
                Malawi=Malawi, Mozambique=Mozambique, Zimbabwe=Zimbabwe, Botswana=Botswana, Namibia=Namibia, SouthAfrica=SouthAfrica,
                Swaziland=Swaziland, Lesotho=Lesotho, Madagascar=Madagascar, Bioko=Bioko, SaoTome=SaoTome, Comoros=Comoros)


def px(x):
    return x / W


def py(y):
    return 1 - y / H


fig = go.Figure()
for classes, xa, ya in ((CLASS_2012, "x", "y"), (CLASS_1980, "x2", "y2")):
    for name, pts in OUTLINES.items():
        k = classes[name]
        lon = [p[0] if p else None for p in pts]
        lat = [p[1] if p else None for p in pts]
        fig.add_trace(go.Scatter(x=lon, y=lat, mode="lines", fill="toself", fillcolor=COLORS[k],
                                 line=dict(color=EDGES[k], width=0.8), xaxis=xa, yaxis=ya,
                                 name=name, showlegend=False, hoverinfo="name"))

shapes = [
    dict(type="line", xref="paper", yref="paper", x0=0, x1=1, y0=py(10), y1=py(10), line=dict(color="#000", width=3)),
    dict(type="line", xref="paper", yref="paper", x0=px(8.5), x1=px(8.5), y0=py(9), y1=0, line=dict(color="#000", width=3)),
]
for yy in (85, 87.5, 90):
    shapes.append(dict(type="line", xref="paper", yref="paper", x0=px(45), x1=px(937), y0=py(yy), y1=py(yy),
                       line=dict(color="#e6cfa6", width=1.5, dash="dot")))

# legend frame
L, R, T, B, r = 441, 564, 329, 536, 6
frame = (f"M {px(L+r)} {py(T)} L {px(R-r)} {py(T)} Q {px(R)} {py(T)} {px(R)} {py(T+r)} "
         f"L {px(R)} {py(B-r)} Q {px(R)} {py(B)} {px(R-r)} {py(B)} L {px(L+r)} {py(B)} "
         f"Q {px(L)} {py(B)} {px(L)} {py(B-r)} L {px(L)} {py(T+r)} Q {px(L)} {py(T)} {px(L+r)} {py(T)} Z")
shapes.append(dict(type="path", xref="paper", yref="paper", path=frame, fillcolor="#fff", line=dict(color="#a6a6a6", width=1.2)))
shapes.append(dict(type="line", xref="paper", yref="paper", x0=px(L), x1=px(R), y0=py(514), y1=py(514), line=dict(color="#a6a6a6", width=1)))

SWATCH_TOPS = [340, 368, 396, 423, 451, 483]
annotations = []
for i, (top, lab) in enumerate(zip(SWATCH_TOPS, LEGEND_LABELS)):
    shapes.append(dict(type="rect", xref="paper", yref="paper", x0=px(449), x1=px(472), y0=py(top), y1=py(top + 22.5),
                       fillcolor=COLORS[i], line=dict(color="#b8bcc0", width=0.6)))
    annotations.append(dict(xref="paper", yref="paper", x=px(479 if i < 5 else 481), y=py(top + 11.5), text=lab, showarrow=False,
                            xanchor="left", yanchor="middle",
                            font=dict(family="Liberation Sans", size=14 if i < 5 else 15, color="#555")))
annotations.append(dict(xref="paper", yref="paper", x=px(503), y=py(525), text=f"<b>{LEGEND_UNIT}</b>", showarrow=False,
                        xanchor="center", yanchor="middle", font=dict(family="Liberation Sans", size=11, color="#444")))
annotations.append(dict(xref="paper", yref="paper", x=px(21), y=py(55), text=f"<b>{TITLE}</b>", showarrow=False,
                        xanchor="left", yanchor="middle", font=dict(family="Liberation Sans", size=32, color="#1d4a80")))
annotations.append(dict(xref="paper", yref="paper", x=px(110), y=py(599), text=f"<b>{YEARS[0]}</b>", showarrow=False,
                        xanchor="center", yanchor="middle", font=dict(family="Open Sans", size=58, color="#2e3192")))
annotations.append(dict(xref="paper", yref="paper", x=px(657), y=py(599), text=f"<b>{YEARS[1]}</b>", showarrow=False,
                        xanchor="center", yanchor="middle", font=dict(family="Open Sans", size=58, color="#2e3192")))
annotations.append(dict(xref="paper", yref="paper", x=px(414), y=py(710), text=SOURCE, showarrow=False,
                        xanchor="left", yanchor="middle", font=dict(family="Lato", size=19.6, color="#111")))

axis = dict(visible=False, fixedrange=True, autorange=False)
fig.update_layout(
    width=W, height=H, margin=dict(l=0, r=0, t=0, b=0), paper_bgcolor="#fff", plot_bgcolor="rgba(0,0,0,0)",
    showlegend=False, shapes=shapes, annotations=annotations,
    xaxis=dict(axis, domain=[px(20), px(430)], range=[-19.3, 53.39]),
    yaxis=dict(axis, domain=[py(680), py(92)], range=[-37.4, 37.65]),
    xaxis2=dict(axis, domain=[px(530), 1], range=[-18.45, 50.2]),
    yaxis2=dict(axis, domain=[py(680), py(92)], range=[-39.17, 35.45]),
)
fig.write_html("out.html", config=dict(displayModeBar=False),
               post_script="document.body.style.margin='0';document.body.style.overflow='hidden';")
